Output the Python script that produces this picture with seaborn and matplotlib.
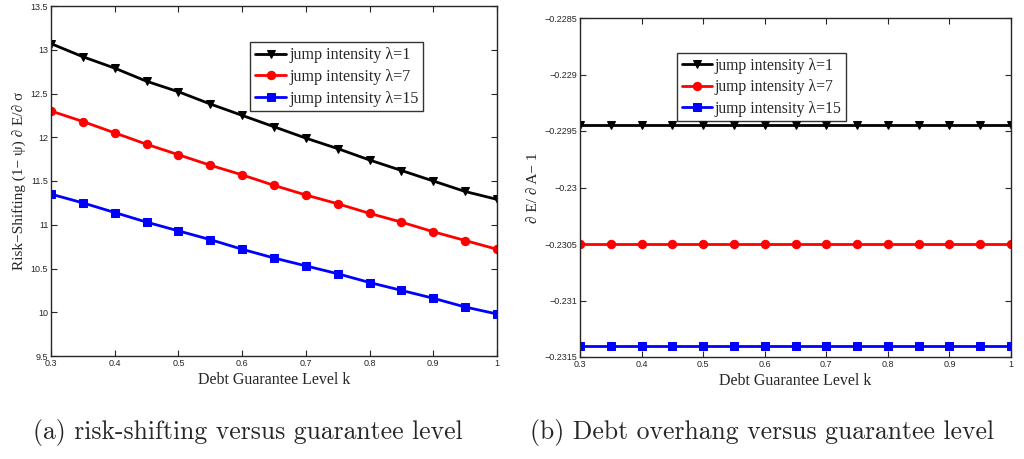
import matplotlib
matplotlib.use("Agg")
import matplotlib.pyplot as plt
import matplotlib.ticker as mticker
import seaborn as sns
import pandas as pd

# guarantee level k
k = [0.3, 0.35, 0.4, 0.45, 0.5, 0.55, 0.6, 0.65, 0.7, 0.75, 0.8, 0.85, 0.9, 0.95, 1.0]

# panel (a): risk-shifting
risk_lam1 = [13.07, 12.92, 12.79, 12.64, 12.52, 12.38, 12.25, 12.12, 11.99, 11.87,
             11.74, 11.62, 11.50, 11.38, 11.29]
risk_lam7 = [12.30, 12.18, 12.05, 11.92, 11.80, 11.68, 11.57, 11.45, 11.34, 11.24,
             11.13, 11.03, 10.92, 10.82, 10.72]
risk_lam15 = [11.35, 11.25, 11.14, 11.03, 10.93, 10.83, 10.72, 10.62, 10.53, 10.44,
              10.34, 10.25, 10.16, 10.06, 9.98]

# panel (b): debt overhang
over_lam1 = [-0.22945] * len(k)
over_lam7 = [-0.23050] * len(k)
over_lam15 = [-0.23140] * len(k)

labels = ["jump intensity λ=1", "jump intensity λ=7", "jump intensity λ=15"]
colors = ["#000000", "#ff0000", "#0000ff"]
markers = ["v", "o", "s"]

sns.set_style("ticks")
plt.rcParams["font.family"] = ["Liberation Serif", "DejaVu Serif"]
plt.rcParams["axes.unicode_minus"] = True

fig = plt.figure(figsize=(10.24, 4.59), dpi=100)
ax1 = fig.add_axes([51 / 1024, 1 - 356 / 459, 446 / 1024, 350 / 459])
ax2 = fig.add_axes([580 / 1024, 1 - 357 / 459, 431 / 1024, 339 / 459])


def draw(ax, series, legsize):
    for vals, lab, c, m in zip(series, labels, colors, markers):
        df = pd.DataFrame({"k": k, "v": vals})
        sns.lineplot(data=df, x="k", y="v", ax=ax, color=c, marker=m, lw=2.0,
                     markersize=6, markeredgecolor=c, label=lab)
    ax.set_xlim(0.3, 1.0)
    ax.set_xticks([0.3, 0.4, 0.5, 0.6, 0.7, 0.8, 0.9, 1.0])
    ax.xaxis.set_major_formatter(mticker.FuncFormatter(lambda v, p: f"{v:g}"))
    ax.tick_params(direction="in", top=True, right=True, length=4, width=0.8,
                   labelsize=6.5, pad=2)
    for s in ax.spines.values():
        s.set_linewidth(1.0)
        s.set_visible(True)
    ax.set_xlabel("Debt Guarantee Level k", fontsize=11.5, labelpad=3)
    leg = ax.legend(fontsize=legsize, frameon=True, fancybox=False, edgecolor="black",
                    handlelength=1.9, handletextpad=0.2, borderpad=0.3,
                    labelspacing=0.35, borderaxespad=0.2)
    leg.get_frame().set_linewidth(1.0)
    return leg


leg1 = draw(ax1, [risk_lam1, risk_lam7, risk_lam15], 11.6)
ax1.set_ylim(9.5, 13.5)
ax1.set_yticks([9.5, 10, 10.5, 11, 11.5, 12, 12.5, 13, 13.5])
ax1.yaxis.set_major_formatter(mticker.FuncFormatter(lambda v, p: f"{v:g}"))
ax1.set_ylabel("Risk−Shifting (1− ψ) ∂ E/∂ σ", fontsize=11, labelpad=3)
leg1.set_bbox_to_anchor((0.44, 0.905), transform=ax1.transAxes)
leg1._loc = 2

leg2 = draw(ax2, [over_lam1, over_lam7, over_lam15], 11.3)
ax2.set_ylim(-0.2315, -0.2285)
ax2.set_yticks([-0.2315, -0.231, -0.2305, -0.23, -0.2295, -0.229, -0.2285])
ax2.yaxis.set_major_formatter(
    mticker.FuncFormatter(lambda v, p: f"{v:g}".replace("-", "−")))
ax2.set_ylabel("∂ E/ ∂ A− 1", fontsize=11, labelpad=3)
leg2.set_bbox_to_anchor((0.218, 0.906), transform=ax2.transAxes)
leg2._loc = 2

for ax in (ax1, ax2):
    for t in ax.get_xticklabels() + ax.get_yticklabels():
        t.set_family("Liberation Sans")

fig.text(33 / 1024, 1 - 432 / 459, "(a) risk-shifting versus guarantee level",
         family="cmr10", fontsize=18.5, va="center", ha="left")
fig.text(530 / 1024, 1 - 432 / 459, "(b) Debt overhang versus guarantee level",
         family="cmr10", fontsize=18.5, va="center", ha="left")

fig.savefig("out.png", dpi=100)
